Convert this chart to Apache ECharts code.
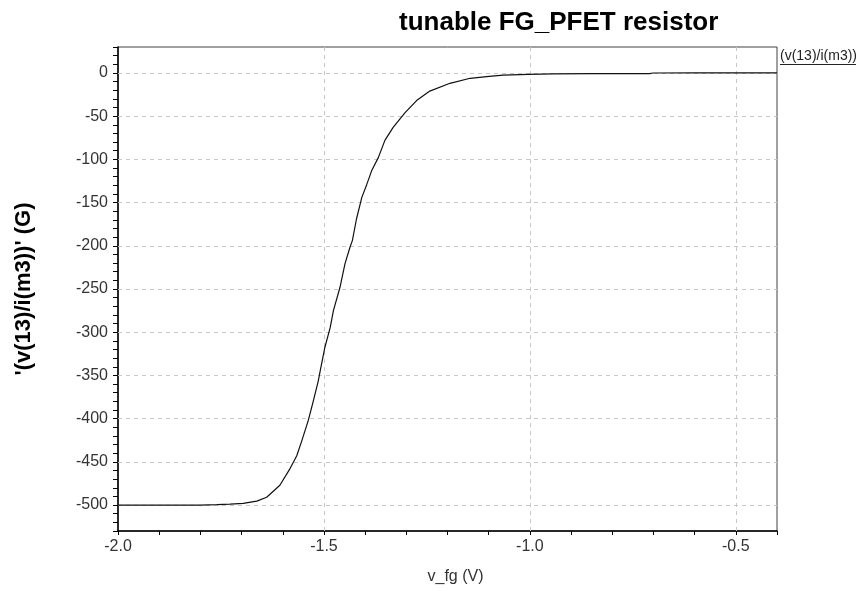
<!DOCTYPE html>
<html>
<head>
<meta charset="utf-8">
<script src="https://cdn.jsdelivr.net/npm/echarts@6/dist/echarts.min.js"></script>
<style>
  html, body { margin: 0; padding: 0; background: #ffffff; }
  #chart { width: 856px; height: 591px; }
</style>
</head>
<body>
<div id="chart"></div>
<script>
// Floating-gate voltage sweep (V)
const vfg = [
  -2.0, -1.9, -1.8, -1.76, -1.728, -1.696, -1.663, -1.639, -1.607, -1.582,
  -1.566, -1.554, -1.538, -1.526, -1.514, -1.510, -1.498, -1.485, -1.477, -1.461,
  -1.449, -1.437, -1.431, -1.421, -1.408, -1.396, -1.384, -1.368, -1.352, -1.332,
  -1.303, -1.275, -1.243, -1.194, -1.145, -1.105, -1.065, -1.004, -0.944, -0.85,
  -0.71, -0.70, -0.6, -0.5, -0.4
];
// Resistance v(13)/i(m3) (G)
const resistance = [
  -500, -500, -500, -499.5, -499, -498, -495.5, -491, -477, -457.5,
  -443, -426, -402, -380, -357, -347, -318, -295, -275, -248,
  -221, -202, -194, -169, -144, -129, -113, -98, -78, -63,
  -46, -32, -21, -12, -6.2, -4.3, -2.5, -1.6, -1.2, -0.9,
  -0.7, -0.1, 0, 0, 0
];

const xTicks = [-2.0, -1.5, -1.0, -0.5];
const yTicks = [0, -50, -100, -150, -200, -250, -300, -350, -400, -450, -500];

const chartTitle = 'tunable FG_PFET resistor';
const xName = 'v_fg (V)';
const yName = "'(v(13)/i(m3))' (G)";
const traceName = '(v(13)/i(m3))';

const FONT = 'Liberation Sans, Arial, sans-serif';
const GRID = { left: 118, top: 47, width: 659, height: 484 };

const points = vfg.map((v, i) => [v, resistance[i]]);

const gridLineStyle = { color: '#c8c8c8', type: [4, 4], width: 1 };

const chart = echarts.init(document.getElementById('chart'), null, { renderer: 'canvas' });

chart.setOption({
  animation: false,
  backgroundColor: '#ffffff',
  title: {
    text: chartTitle,
    left: 394,
    top: 5,
    textStyle: { fontFamily: FONT, fontSize: 26, fontWeight: 'bold', color: '#000' }
  },
  grid: {
    left: GRID.left, top: GRID.top, width: GRID.width, height: GRID.height,
    show: true, borderColor: '#404040', borderWidth: 1, backgroundColor: 'transparent'
  },
  xAxis: {
    type: 'value',
    min: -2.0, max: -0.4, interval: 0.1,
    name: xName,
    nameLocation: 'middle',
    nameGap: 38,
    nameTextStyle: { fontFamily: FONT, fontSize: 16, color: '#333', padding: [0, 0, 0, 16] },
    axisLine: { show: true, onZero: false, lineStyle: { color: '#000', width: 1.5 } },
    axisTick: { show: true, inside: false, length: 4, lineStyle: { color: '#000' } },
    axisLabel: {
      customValues: xTicks,
      margin: 8,
      fontFamily: FONT, fontSize: 16, color: '#333',
      formatter: v => v.toFixed(1)
    },
    splitLine: { show: false }
  },
  yAxis: {
    type: 'value',
    min: -530, max: 30, interval: 10,
    name: yName,
    nameLocation: 'middle',
    nameRotate: 90,
    nameGap: 83,
    nameTextStyle: { fontFamily: FONT, fontSize: 22, fontWeight: 'bold', color: '#000' },
    axisLine: { show: true, onZero: false, lineStyle: { color: '#000', width: 1.5 } },
    axisTick: { show: true, inside: false, length: 5, lineStyle: { color: '#000' } },
    axisLabel: {
      customValues: yTicks,
      margin: 10,
      fontFamily: FONT, fontSize: 16, color: '#333',
      formatter: v => String(v)
    },
    splitLine: { show: false }
  },
  series: [
    {
      // dashed reference grid at the labelled ticks
      name: 'grid',
      type: 'line',
      data: [],
      z: 1,
      silent: true,
      markLine: {
        silent: true,
        symbol: ['none', 'none'],
        label: { show: false },
        lineStyle: gridLineStyle,
        data: [
          ...xTicks.filter(v => v > -2.0).map(v => ({ xAxis: v })),
          ...yTicks.map(v => ({ yAxis: v }))
        ]
      }
    },
    {
      name: traceName,
      type: 'line',
      data: points,
      z: 5,
      showSymbol: false,
      symbol: 'none',
      smooth: false,
      lineStyle: { color: '#111', width: 1.2 }
    }
  ],
  graphic: [
    {
      type: 'text',
      left: 780,
      top: 49,
      style: { text: traceName, fontFamily: FONT, fontSize: 14, fill: '#222' }
    },
    {
      type: 'line',
      shape: { x1: 780, y1: 64.5, x2: 856, y2: 64.5 },
      style: { stroke: '#222', lineWidth: 1 }
    }
  ]
});
</script>
</body>
</html>
